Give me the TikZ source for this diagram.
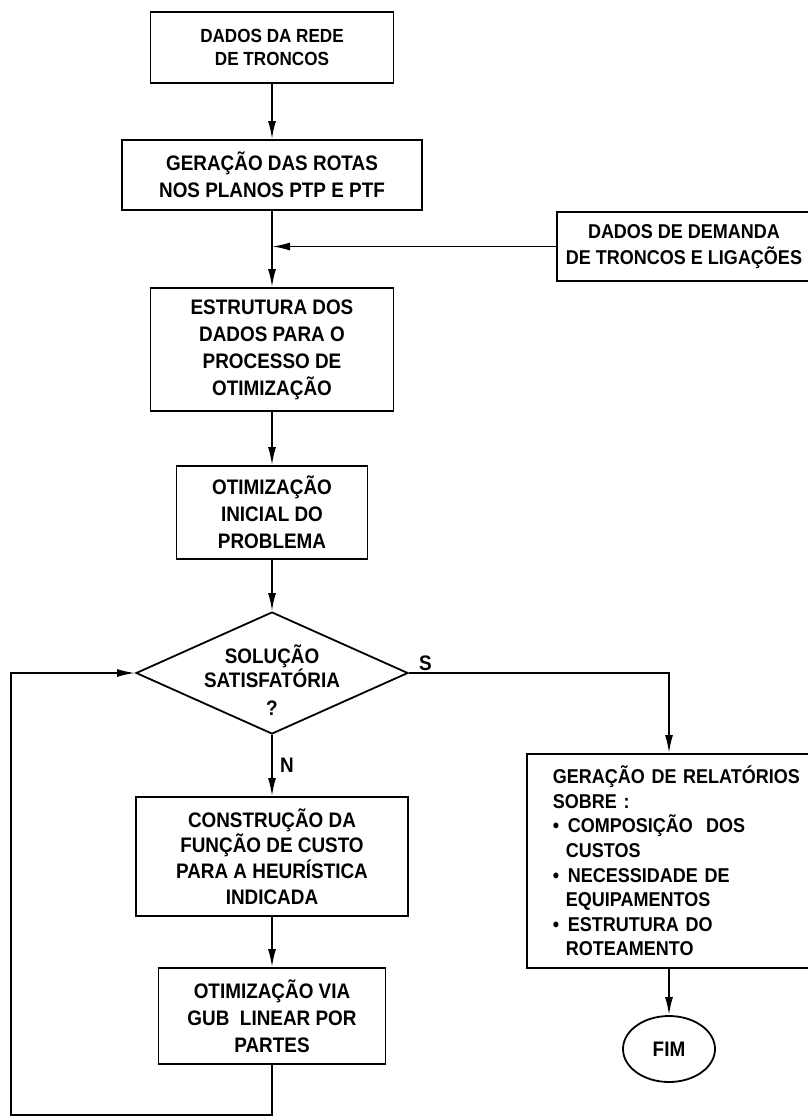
\documentclass[tikz,border=0pt]{standalone}
\usepackage{fontspec}
\setmainfont{Liberation Sans}[FakeStretch=0.9]
\usetikzlibrary{arrows.meta,shapes.geometric}
\begin{document}
\begin{tikzpicture}[x=1pt,y=-1pt,
  every node/.style={font=\fontsize{21}{27}\selectfont\bfseries},
  procbox/.style={draw,line width=1.8pt,rectangle,inner sep=0pt,align=center},
  arr/.style={line width=1.8pt,-{Latex[length=18pt,width=8pt]}},
  conn/.style={line width=1.8pt}]
\useasboundingbox (0,0) rectangle (807,1116);
\fill[white] (0,0) rectangle (807,1116);

\node[procbox,minimum width=243pt,minimum height=71pt,font=\fontsize{19}{23}\selectfont\bfseries] (b1) at (272,47.5)
  {DADOS DA REDE\\DE TRONCOS};
\node[procbox,minimum width=300pt,minimum height=70pt] (b2) at (272,175)
  {GERAÇÃO DAS ROTAS\\NOS PLANOS PTP E PTF};
\node[procbox,minimum width=254pt,minimum height=69pt,font=\fontsize{20}{26}\selectfont\bfseries] (dem) at (684,246.5)
  {DADOS DE DEMANDA\\DE TRONCOS E LIGAÇÕES};
\node[procbox,minimum width=243pt,minimum height=123pt] (b3) at (272,349.5)
  {ESTRUTURA DOS\\DADOS PARA O\\PROCESSO DE\\OTIMIZAÇÃO};
\node[procbox,minimum width=191pt,minimum height=93pt] (b4) at (272,512.5)
  {OTIMIZAÇÃO\\INICIAL DO\\PROBLEMA};
\node[draw,line width=1.8pt,diamond,inner sep=0pt,minimum width=272pt,minimum height=122pt,
  label={[align=center,yshift=-7pt,font=\fontsize{21}{24}\selectfont\bfseries]center:SOLUÇÃO\\SATISFATÓRIA\\[4pt]?}] (dec) at (272,673) {};
\node[procbox,minimum width=272pt,minimum height=119pt,font=\fontsize{21}{25.7}\selectfont\bfseries] (b5) at (272,856.5)
  {CONSTRUÇÃO DA\\FUNÇÃO DE CUSTO\\PARA A HEURÍSTICA\\INDICADA};
\node[procbox,minimum width=227pt,minimum height=96pt] (b6) at (272,1016)
  {OTIMIZAÇÃO VIA\\GUB\ \ LINEAR POR\\PARTES};
\node[procbox,anchor=north west,text width=248pt,inner xsep=26pt,minimum height=214pt,align=left,
  font=\fontsize{20}{24.6}\selectfont\bfseries] (rb) at (526,753)
  {GERAÇÃO DE RELATÓRIOS\\
   SOBRE :\\
   \makebox[15pt][l]{\textbullet}COMPOSIÇÃO\ \ DOS\\
   \hspace*{13pt}CUSTOS\\
   \makebox[15pt][l]{\textbullet}NECESSIDADE DE\\
   \hspace*{13pt}EQUIPAMENTOS\\
   \makebox[15pt][l]{\textbullet}ESTRUTURA DO\\
   \hspace*{13pt}ROTEAMENTO};
\node[draw,line width=1.8pt,ellipse,inner sep=0pt,minimum width=92pt,minimum height=66pt] (fim) at (669,1049) {FIM};

\coordinate (j) at (b2.south |- dem.west);
\coordinate (lb) at (11,1115);
\coordinate (rt) at (669,753);

\draw[arr] (b1) -- (b2);
\draw[arr] (b2) -- (b3);
\draw[arr] (dem.west) -- (j);
\draw[arr] (b3) -- (b4);
\draw[arr] (b4) -- (dec);
\draw[arr] (dec) -- node[right,xshift=4pt] {N} (b5);
\draw[arr] (b5) -- (b6);
\draw[arr] (b6.south) |- (lb) |- (dec.west);
\draw[arr] (dec.east) node[above right,xshift=6pt,yshift=-2pt] {S} -| (rt);
\draw[arr] (rb.south -| fim.north) -- (fim.north);
\end{tikzpicture}
\end{document}
